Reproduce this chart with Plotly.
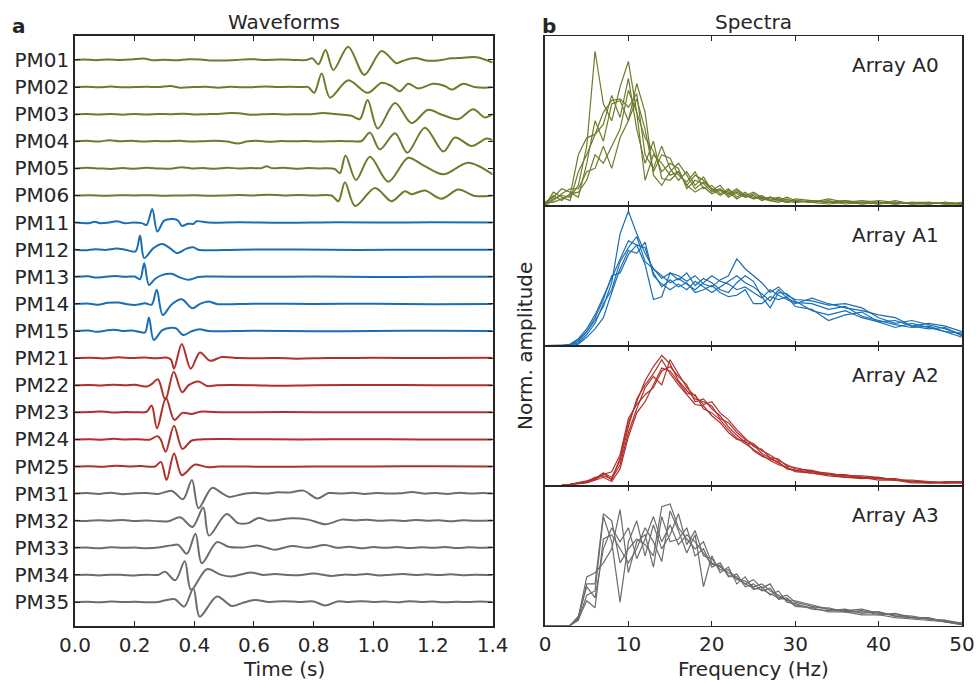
import plotly.graph_objects as go

# ---------------- data ----------------
STATIONS = ["PM01", "PM02", "PM03", "PM04", "PM05", "PM06",
            "PM11", "PM12", "PM13", "PM14", "PM15",
            "PM21", "PM22", "PM23", "PM24", "PM25",
            "PM31", "PM32", "PM33", "PM34", "PM35"]

# waveform key points (time s, normalised amplitude)
PM01 = [(0.00,0.0),(0.03,0.02),(0.07,-0.01),(0.11,0.02),(0.15,0.00),(0.19,0.02),(0.235,0.05),(0.26,-0.01),(0.30,0.01),(0.34,-0.01),(0.38,0.03),(0.42,0.02),(0.46,-0.02),(0.50,-0.02),(0.54,0.00),(0.58,0.03),(0.61,0.02),(0.64,0.00),(0.67,0.01),(0.70,0.02),(0.74,0.00),(0.775,0.00),(0.796,0.06),(0.816,-0.16),(0.840,0.37),(0.866,-0.37),(0.916,0.49),(0.970,-0.55),(1.028,0.33),(1.078,-0.12),(1.10,-0.03),(1.140,0.07),(1.184,-0.03),(1.229,0.0),(1.26,0.06),(1.285,0.07),(1.346,0.10),(1.40,-0.10)]
PM02 = [(0.00,0.0),(0.04,0.01),(0.08,-0.01),(0.12,0.02),(0.16,-0.01),(0.20,0.0),(0.24,0.01),(0.28,0.0),(0.32,0.04),(0.35,-0.02),(0.40,0.0),(0.44,0.01),(0.48,-0.02),(0.52,0.01),(0.56,-0.01),(0.60,0.0),(0.64,0.02),(0.68,0.0),(0.72,0.01),(0.76,0.0),(0.782,0.0),(0.802,-0.21),(0.827,0.50),(0.855,-0.39),(0.916,0.25),(0.981,-0.21),(1.028,0.16),(1.061,0.04),(1.089,-0.15),(1.117,0.12),(1.151,-0.05),(1.201,0.12),(1.240,0.04),(1.263,-0.09),(1.302,0.12),(1.34,0.0),(1.374,-0.02),(1.40,0.0)]
PM03 = [(0.00,0.0),(0.04,0.01),(0.08,-0.01),(0.12,0.01),(0.16,-0.02),(0.20,0.01),(0.24,-0.01),(0.28,0.01),(0.32,0.0),(0.36,0.02),(0.40,-0.01),(0.44,0.0),(0.48,0.01),(0.52,0.04),(0.55,0.03),(0.59,-0.02),(0.63,0.0),(0.67,0.01),(0.71,-0.01),(0.75,0.0),(0.79,0.0),(0.83,0.04),(0.87,0.01),(0.927,-0.06),(0.955,-0.18),(0.981,0.52),(1.015,-0.53),(1.073,0.41),(1.128,-0.33),(1.184,0.16),(1.23,-0.02),(1.285,-0.18),(1.335,0.18),(1.374,-0.12),(1.40,0.0)]
PM04 = [(0.00,0.0),(0.04,0.02),(0.08,-0.01),(0.115,0.04),(0.15,0.0),(0.19,0.02),(0.23,-0.01),(0.27,0.01),(0.31,0.0),(0.35,0.02),(0.39,-0.01),(0.43,0.0),(0.47,0.02),(0.51,-0.01),(0.547,-0.08),(0.575,-0.01),(0.61,0.02),(0.65,-0.02),(0.69,0.01),(0.73,0.0),(0.77,0.01),(0.81,-0.01),(0.85,0.0),(0.89,0.01),(0.93,0.0),(0.961,0.01),(0.989,0.32),(1.022,-0.30),(1.073,0.30),(1.114,-0.42),(1.173,0.50),(1.235,-0.38),(1.274,0.14),(1.330,-0.17),(1.380,0.10),(1.40,0.04)]
PM05 = [(0.00,0.0),(0.04,0.02),(0.08,0.0),(0.12,-0.02),(0.16,0.01),(0.20,-0.01),(0.24,0.02),(0.28,0.0),(0.32,-0.01),(0.357,0.04),(0.39,0.0),(0.43,0.01),(0.47,-0.01),(0.51,0.02),(0.55,0.0),(0.59,0.01),(0.625,0.01),(0.642,0.08),(0.66,0.01),(0.70,0.02),(0.74,-0.01),(0.78,0.01),(0.82,0.0),(0.86,0.0),(0.872,-0.03),(0.888,-0.18),(0.907,0.48),(0.942,-0.43),(0.989,0.43),(1.050,-0.49),(1.117,0.39),(1.162,0.15),(1.235,-0.22),(1.318,0.21),(1.40,-0.22)]
PM06 = [(0.00,0.0),(0.05,0.01),(0.10,-0.01),(0.15,0.01),(0.20,0.0),(0.25,0.01),(0.30,-0.01),(0.35,0.0),(0.40,0.01),(0.45,-0.01),(0.50,0.0),(0.55,0.02),(0.60,0.0),(0.65,0.03),(0.70,0.0),(0.75,0.02),(0.80,0.0),(0.86,0.0),(0.883,-0.21),(0.905,0.49),(0.939,-0.39),(1.006,0.28),(1.061,-0.21),(1.106,0.16),(1.128,0.05),(1.173,0.18),(1.229,-0.12),(1.285,0.22),(1.341,-0.02),(1.40,0.0)]
PM11 = [(0.0,0.0),(0.045,-0.02),(0.067,0.03),(0.084,-0.02),(0.112,0.0),(0.14,0.05),(0.168,-0.02),(0.196,0.0),(0.224,-0.02),(0.240,-0.09),(0.259,0.50),(0.276,-0.33),(0.299,0.07),(0.330,0.13),(0.346,0.07),(0.358,-0.12),(0.380,-0.04),(0.397,-0.05),(0.408,0.05),(0.447,0.0),(0.55,0.01),(0.70,-0.01),(0.88,0.01),(1.0,0.0),(1.2,0.01),(1.40,0.0)]
PM12 = [(0.0,0.0),(0.034,-0.02),(0.067,0.02),(0.10,-0.01),(0.14,0.04),(0.168,0.0),(0.203,-0.06),(0.218,0.52),(0.232,-0.31),(0.263,0.06),(0.293,0.21),(0.318,0.06),(0.341,-0.12),(0.374,0.04),(0.397,0.09),(0.413,0.0),(0.55,0.0),(0.75,0.01),(0.95,-0.01),(1.15,0.0),(1.40,0.0)]
PM13 = [(0.0,0.0),(0.045,0.02),(0.07,-0.03),(0.10,0.0),(0.135,0.03),(0.17,0.0),(0.20,0.01),(0.218,-0.09),(0.232,0.50),(0.248,-0.30),(0.268,-0.08),(0.293,0.07),(0.324,0.11),(0.346,0.0),(0.380,-0.11),(0.413,-0.01),(0.447,0.01),(0.60,0.0),(0.80,0.01),(1.0,-0.01),(1.2,0.0),(1.40,0.0)]
PM14 = [(0.0,0.0),(0.05,0.01),(0.078,-0.03),(0.11,0.04),(0.145,0.05),(0.17,0.0),(0.20,-0.04),(0.235,0.02),(0.257,-0.03),(0.274,0.52),(0.294,-0.41),(0.324,-0.02),(0.358,0.17),(0.393,-0.16),(0.419,0.0),(0.447,0.09),(0.475,0.0),(0.60,0.01),(0.80,0.0),(1.0,0.01),(1.2,-0.01),(1.40,0.0)]
PM15 = [(0.0,0.0),(0.045,0.02),(0.07,-0.03),(0.10,0.01),(0.13,0.05),(0.16,0.0),(0.19,0.02),(0.215,-0.03),(0.235,-0.05),(0.248,0.50),(0.264,-0.33),(0.293,0.03),(0.324,0.12),(0.339,0.10),(0.363,-0.15),(0.391,-0.01),(0.419,0.06),(0.447,0.0),(0.60,0.01),(0.80,-0.01),(1.0,0.0),(1.2,0.01),(1.40,0.0)]
PM21 = [(0.0,0.0),(0.05,0.01),(0.10,-0.01),(0.145,0.03),(0.19,0.0),(0.235,0.02),(0.27,-0.01),(0.307,0.02),(0.322,-0.06),(0.332,-0.39),(0.358,0.52),(0.388,-0.39),(0.419,0.21),(0.453,-0.10),(0.492,0.04),(0.55,0.0),(0.68,0.0),(0.74,-0.02),(0.85,0.0),(1.0,0.01),(1.2,0.0),(1.40,0.01)]
PM22 = [(0.0,0.0),(0.05,0.01),(0.09,-0.01),(0.13,0.02),(0.17,0.0),(0.20,0.02),(0.219,-0.02),(0.241,-0.05),(0.258,0.05),(0.278,0.22),(0.303,-0.54),(0.331,0.50),(0.359,-0.26),(0.381,0.0),(0.414,0.14),(0.443,-0.03),(0.476,0.0),(0.60,0.0),(0.68,-0.02),(0.80,0.0),(1.0,0.01),(1.2,0.0),(1.40,0.0)]
PM23 = [(0.0,0.0),(0.05,0.01),(0.09,0.03),(0.13,-0.01),(0.17,0.01),(0.21,0.0),(0.24,0.02),(0.257,0.25),(0.275,-0.59),(0.305,0.54),(0.333,-0.28),(0.36,-0.02),(0.39,-0.06),(0.42,0.02),(0.50,0.0),(0.70,0.01),(0.90,0.0),(1.1,0.0),(1.40,0.0)]
PM24 = [(0.0,0.0),(0.05,0.01),(0.09,-0.01),(0.13,0.02),(0.17,0.0),(0.21,0.01),(0.25,-0.01),(0.277,0.12),(0.288,-0.02),(0.304,-0.46),(0.332,0.50),(0.360,-0.35),(0.39,-0.05),(0.42,0.0),(0.55,0.01),(0.75,0.0),(0.95,0.01),(1.15,0.0),(1.40,0.0)]
PM25 = [(0.0,0.0),(0.05,0.01),(0.09,-0.01),(0.135,0.03),(0.18,0.0),(0.22,0.02),(0.268,0.0),(0.288,0.17),(0.307,-0.50),(0.332,0.48),(0.358,-0.32),(0.391,-0.01),(0.402,0.07),(0.447,-0.03),(0.48,0.0),(0.65,-0.01),(0.80,0.0),(1.0,0.0),(1.2,0.01),(1.40,0.0)]
PM31 = [(0.0,0.0),(0.04,0.02),(0.08,-0.01),(0.12,0.03),(0.16,-0.02),(0.20,0.01),(0.24,0.02),(0.28,-0.01),(0.325,0.10),(0.362,-0.21),(0.392,0.50),(0.414,-0.54),(0.459,0.21),(0.492,0.02),(0.516,-0.12),(0.56,-0.02),(0.60,0.03),(0.64,0.0),(0.68,0.05),(0.72,0.04),(0.766,0.11),(0.813,-0.18),(0.85,0.02),(0.89,0.0),(0.93,0.03),(0.97,-0.01),(1.01,0.02),(1.05,0.0),(1.09,0.01),(1.13,0.06),(1.17,0.0),(1.21,0.02),(1.25,-0.01),(1.29,0.03),(1.33,0.0),(1.37,0.02),(1.40,0.0)]
PM32 = [(0.0,0.0),(0.04,-0.01),(0.08,0.02),(0.12,0.0),(0.16,0.03),(0.20,-0.01),(0.24,0.01),(0.28,-0.02),(0.313,-0.02),(0.353,0.13),(0.394,-0.23),(0.430,0.49),(0.449,-0.55),(0.508,0.25),(0.547,-0.09),(0.581,-0.09),(0.615,0.10),(0.65,0.0),(0.68,0.03),(0.726,0.09),(0.782,0.04),(0.840,-0.13),(0.894,0.04),(0.94,0.01),(0.98,0.04),(1.02,0.0),(1.06,0.02),(1.10,-0.01),(1.14,0.03),(1.18,0.0),(1.22,0.02),(1.26,-0.02),(1.30,0.02),(1.34,0.0),(1.40,0.01)]
PM33 = [(0.0,0.0),(0.04,0.01),(0.08,-0.02),(0.12,0.02),(0.16,0.0),(0.20,0.01),(0.24,-0.02),(0.28,0.01),(0.324,0.09),(0.346,0.11),(0.375,-0.22),(0.404,0.52),(0.425,-0.57),(0.476,0.21),(0.514,0.04),(0.56,0.01),(0.615,0.08),(0.670,-0.07),(0.726,0.07),(0.78,0.0),(0.838,0.10),(0.88,0.0),(0.92,0.04),(0.96,-0.02),(1.0,0.03),(1.04,0.0),(1.08,0.03),(1.12,-0.01),(1.16,0.02),(1.20,0.0),(1.24,0.03),(1.28,-0.01),(1.32,0.02),(1.36,0.0),(1.40,0.02)]
PM34 = [(0.0,0.0),(0.04,0.01),(0.08,-0.02),(0.12,0.01),(0.16,0.0),(0.20,-0.02),(0.24,0.01),(0.279,0.0),(0.302,0.12),(0.336,-0.20),(0.368,0.50),(0.389,-0.55),(0.442,0.21),(0.49,0.0),(0.525,-0.06),(0.589,0.09),(0.63,0.0),(0.67,0.03),(0.71,0.0),(0.75,-0.01),(0.80,0.05),(0.86,-0.04),(0.90,0.01),(0.94,0.0),(0.98,0.03),(1.02,-0.02),(1.06,0.01),(1.10,0.03),(1.14,0.0),(1.18,0.02),(1.22,0.0),(1.26,0.02),(1.30,-0.01),(1.34,0.01),(1.40,0.0)]
PM35 = [(0.0,0.0),(0.04,0.01),(0.08,-0.01),(0.12,0.02),(0.16,0.0),(0.20,0.01),(0.24,-0.01),(0.279,0.0),(0.333,0.11),(0.366,-0.17),(0.397,0.50),(0.418,-0.54),(0.476,0.20),(0.526,-0.15),(0.56,-0.04),(0.604,0.07),(0.65,0.0),(0.70,0.03),(0.75,0.0),(0.80,0.02),(0.839,-0.13),(0.88,0.02),(0.92,0.0),(0.96,0.03),(1.0,0.0),(1.04,0.02),(1.08,-0.01),(1.12,0.03),(1.16,0.0),(1.20,0.02),(1.24,-0.01),(1.28,0.01),(1.32,0.0),(1.36,0.02),(1.40,0.0)]

WAVEFORMS = [PM01, PM02, PM03, PM04, PM05, PM06, PM11, PM12, PM13, PM14, PM15,
             PM21, PM22, PM23, PM24, PM25, PM31, PM32, PM33, PM34, PM35]

TIME_TICKS = [0.0, 0.2, 0.4, 0.6, 0.8, 1.0, 1.2, 1.4]
FREQ_TICKS = [0, 10, 20, 30, 40, 50]

FREQ = list(range(0, 31)) + [32, 34, 36, 38, 40, 42, 44, 46, 48, 50]

A0_SPECTRA = [
    [0.01,0.04,0.06,0.05,0.12,0.35,0.91,0.60,0.50,0.70,0.85,0.55,0.15,0.30,0.25,0.18,0.20,0.12,0.18,0.15,0.10,0.09,0.07,0.10,0.06,0.08,0.05,0.04,0.03,0.05,0.03,0.02,0.04,0.02,0.03,0.02,0.01,0.02,0.01,0.02,0.01],
    [0.00,0.08,0.05,0.03,0.20,0.30,0.42,0.55,0.62,0.63,0.58,0.66,0.30,0.22,0.35,0.22,0.15,0.20,0.12,0.17,0.09,0.12,0.06,0.09,0.05,0.07,0.04,0.05,0.03,0.02,0.04,0.03,0.02,0.03,0.02,0.01,0.02,0.01,0.02,0.01,0.02],
    [0.02,0.05,0.10,0.08,0.05,0.25,0.50,0.38,0.60,0.62,0.50,0.63,0.45,0.20,0.30,0.28,0.18,0.14,0.20,0.10,0.12,0.07,0.10,0.05,0.08,0.04,0.06,0.03,0.04,0.02,0.03,0.02,0.03,0.01,0.02,0.03,0.02,0.01,0.02,0.01,0.01],
    [0.01,0.06,0.03,0.07,0.08,0.15,0.30,0.25,0.35,0.45,0.68,0.55,0.40,0.32,0.20,0.25,0.22,0.10,0.15,0.13,0.08,0.10,0.05,0.08,0.06,0.04,0.05,0.03,0.02,0.04,0.02,0.03,0.02,0.03,0.01,0.02,0.01,0.02,0.01,0.02,0.01],
    [0.00,0.03,0.07,0.10,0.10,0.20,0.22,0.35,0.22,0.40,0.50,0.72,0.55,0.18,0.12,0.20,0.25,0.18,0.10,0.14,0.10,0.06,0.09,0.07,0.05,0.06,0.03,0.05,0.04,0.02,0.03,0.02,0.01,0.02,0.02,0.01,0.03,0.01,0.01,0.02,0.01],
    [0.02,0.02,0.04,0.06,0.30,0.40,0.42,0.48,0.65,0.52,0.75,0.45,0.25,0.38,0.16,0.15,0.20,0.12,0.08,0.11,0.07,0.09,0.08,0.04,0.07,0.05,0.04,0.03,0.05,0.03,0.02,0.03,0.02,0.02,0.01,0.02,0.01,0.02,0.02,0.01,0.01],
]
A1_SPECTRA = [
    [0.0,0.0,0.0,0.005,0.03,0.10,0.18,0.28,0.45,0.80,0.96,0.80,0.66,0.55,0.48,0.52,0.50,0.46,0.50,0.44,0.42,0.47,0.50,0.62,0.55,0.50,0.45,0.38,0.42,0.36,0.33,0.32,0.29,0.30,0.27,0.20,0.16,0.18,0.15,0.12,0.08],
    [0.0,0.0,0.0,0.01,0.05,0.12,0.22,0.35,0.48,0.62,0.75,0.72,0.58,0.33,0.35,0.52,0.47,0.52,0.43,0.48,0.45,0.40,0.38,0.45,0.50,0.46,0.35,0.27,0.38,0.37,0.32,0.25,0.22,0.25,0.20,0.17,0.13,0.16,0.13,0.10,0.06],
    [0.0,0.0,0.0,0.005,0.02,0.08,0.16,0.30,0.40,0.60,0.70,0.78,0.60,0.55,0.50,0.45,0.48,0.44,0.40,0.45,0.50,0.46,0.44,0.40,0.42,0.38,0.34,0.40,0.36,0.33,0.30,0.34,0.30,0.27,0.25,0.22,0.20,0.14,0.16,0.14,0.10],
    [0.0,0.0,0.0,0.01,0.04,0.10,0.20,0.33,0.50,0.52,0.65,0.72,0.70,0.52,0.42,0.47,0.42,0.45,0.38,0.40,0.43,0.38,0.35,0.36,0.40,0.30,0.30,0.35,0.33,0.35,0.28,0.26,0.18,0.22,0.24,0.17,0.18,0.14,0.12,0.13,0.07],
    [0.0,0.0,0.0,0.0,0.01,0.06,0.12,0.20,0.38,0.55,0.68,0.66,0.74,0.50,0.44,0.40,0.44,0.40,0.46,0.42,0.38,0.42,0.46,0.50,0.45,0.42,0.37,0.32,0.40,0.34,0.31,0.30,0.26,0.28,0.21,0.18,0.15,0.13,0.14,0.10,0.09],
]
A2_SPECTRA = [
    [0.0,0.0,0.003,0.01,0.02,0.035,0.05,0.09,0.04,0.20,0.45,0.60,0.75,0.85,0.93,0.87,0.75,0.68,0.62,0.60,0.57,0.48,0.45,0.38,0.33,0.30,0.25,0.22,0.18,0.15,0.12,0.11,0.08,0.08,0.06,0.05,0.04,0.03,0.02,0.02,0.03],
    [0.0,0.0,0.003,0.01,0.02,0.03,0.06,0.07,0.05,0.15,0.38,0.55,0.70,0.78,0.72,0.90,0.80,0.70,0.64,0.58,0.60,0.52,0.47,0.40,0.34,0.28,0.26,0.20,0.19,0.14,0.13,0.10,0.09,0.07,0.07,0.06,0.04,0.04,0.03,0.02,0.03],
    [0.0,0.0,0.002,0.008,0.015,0.025,0.045,0.08,0.10,0.22,0.48,0.58,0.65,0.70,0.82,0.85,0.78,0.72,0.60,0.62,0.55,0.50,0.42,0.36,0.31,0.29,0.23,0.20,0.16,0.13,0.11,0.10,0.08,0.07,0.06,0.05,0.05,0.03,0.02,0.02,0.02],
    [0.0,0.0,0.002,0.008,0.015,0.02,0.04,0.06,0.03,0.12,0.35,0.52,0.60,0.72,0.84,0.82,0.74,0.66,0.65,0.55,0.52,0.47,0.40,0.34,0.30,0.26,0.22,0.18,0.15,0.13,0.10,0.09,0.07,0.06,0.05,0.06,0.04,0.03,0.03,0.02,0.02],
    [0.0,0.0,0.003,0.01,0.02,0.03,0.05,0.09,0.06,0.18,0.42,0.62,0.72,0.80,0.90,0.80,0.72,0.65,0.58,0.57,0.50,0.45,0.38,0.33,0.32,0.25,0.21,0.19,0.17,0.12,0.11,0.09,0.08,0.06,0.06,0.04,0.04,0.02,0.02,0.03,0.03],
]
A3_SPECTRA = [
    [0.0,0.002,0.003,0.005,0.05,0.30,0.30,0.80,0.75,0.45,0.55,0.62,0.58,0.50,0.85,0.87,0.70,0.62,0.55,0.60,0.45,0.42,0.38,0.35,0.30,0.33,0.27,0.30,0.20,0.22,0.17,0.14,0.12,0.11,0.12,0.09,0.08,0.07,0.05,0.04,0.01],
    [0.0,0.002,0.003,0.005,0.04,0.22,0.25,0.78,0.60,0.17,0.60,0.75,0.50,0.72,0.55,0.65,0.80,0.58,0.68,0.50,0.48,0.40,0.40,0.33,0.32,0.28,0.30,0.25,0.22,0.18,0.18,0.15,0.12,0.10,0.10,0.10,0.07,0.06,0.06,0.03,0.01],
    [0.0,0.002,0.003,0.005,0.06,0.35,0.38,0.45,0.55,0.83,0.38,0.60,0.65,0.42,0.78,0.60,0.62,0.70,0.50,0.55,0.42,0.45,0.35,0.37,0.28,0.30,0.25,0.27,0.19,0.20,0.15,0.13,0.13,0.10,0.11,0.08,0.09,0.06,0.05,0.04,0.02],
    [0.0,0.002,0.003,0.005,0.05,0.18,0.13,0.62,0.65,0.55,0.45,0.55,0.70,0.60,0.46,0.82,0.68,0.52,0.65,0.28,0.50,0.38,0.42,0.30,0.35,0.26,0.28,0.22,0.25,0.17,0.16,0.12,0.11,0.12,0.09,0.10,0.07,0.06,0.05,0.03,0.01],
    [0.0,0.002,0.003,0.005,0.07,0.28,0.20,0.55,0.70,0.60,0.70,0.48,0.62,0.78,0.60,0.72,0.58,0.65,0.60,0.52,0.44,0.43,0.36,0.34,0.30,0.27,0.26,0.23,0.20,0.19,0.14,0.13,0.10,0.10,0.08,0.08,0.06,0.05,0.04,0.03,0.02],
]
SPECTRA = [A0_SPECTRA, A1_SPECTRA, A2_SPECTRA, A3_SPECTRA]
ARRAY_LABELS = ["Array A0", "Array A1", "Array A2", "Array A3"]

# ---------------- style ----------------
GREEN, BLUE, RED, GREY = "#6f7b2b", "#1a6fb4", "#b0302b", "#6c6c6c"
GROUP_COLORS = [GREEN, BLUE, RED, GREY]
TRACE_COLORS = [GREEN] * 6 + [BLUE] * 5 + [RED] * 5 + [GREY] * 5
INK = "#262626"
FONT = "DejaVu Sans"
FS = 20

W, H = 976, 684
ML, MR, MT, MB = 75, 14, 36, 58
PW, PH = W - ML - MR, H - MT - MB


def px_x(p):
    return (p - ML) / PW


def px_y(p):
    return (H - MB - p) / PH


fig = go.Figure()

n = len(STATIONS)
for i, (pts, col) in enumerate(zip(WAVEFORMS, TRACE_COLORS)):
    fig.add_trace(go.Scatter(
        x=[p[0] for p in pts], y=[-i + p[1] for p in pts], mode="lines",
        line=dict(color=col, width=2, shape="spline", smoothing=0.9),
        xaxis="x", yaxis="y", showlegend=False, hoverinfo="skip"))

for k, (lines, col) in enumerate(zip(SPECTRA, GROUP_COLORS)):
    ax = str(k + 2)
    for vals in lines:
        fig.add_trace(go.Scatter(
            x=FREQ, y=vals, mode="lines", line=dict(color=col, width=1.2),
            xaxis="x" + ax, yaxis="y" + ax, showlegend=False, hoverinfo="skip"))

axis_common = dict(showline=True, linecolor=INK, linewidth=1.5, mirror="ticks",
                   ticks="inside", ticklen=5, tickwidth=1.2, tickcolor=INK,
                   showgrid=False, zeroline=False, automargin=False,
                   tickfont=dict(family=FONT, size=FS, color=INK))

split = px_x(545)
layout = dict(
    width=W, height=H, autosize=False, margin=dict(l=ML, r=MR, t=MT, b=MB, pad=0),
    paper_bgcolor="white", plot_bgcolor="white", showlegend=False,
    font=dict(family=FONT, size=FS, color=INK),
    xaxis=dict(domain=[0, px_x(492.6)], range=[0, 1.4], tickvals=TIME_TICKS,
               ticktext=["%.1f" % t for t in TIME_TICKS], anchor="y", **axis_common),
    yaxis=dict(domain=[0, 1], range=[-(n - 1) - 0.885, 0.885],
               tickvals=[-i for i in range(n)], ticktext=STATIONS, anchor="x",
               **axis_common),
)

bounds = [36, 205.7, 345.7, 485.7, 626]
for k in range(4):
    ax = str(k + 2)
    d = [px_y(bounds[k + 1]), px_y(bounds[k])]
    xa = dict(axis_common)
    xa["linewidth"] = 1.1
    layout["xaxis" + ax] = dict(domain=[split, 1], range=[0, 50], tickvals=FREQ_TICKS,
                                showticklabels=(k == 3), anchor="y" + ax, **xa)
    layout["yaxis" + ax] = dict(domain=d, range=[0, 1], showticklabels=False,
                                showline=True, linecolor=INK, linewidth=1.5, mirror=True,
                                ticks="", showgrid=False, zeroline=False, anchor="x" + ax)
fig.update_layout(**layout)

ann = []
def add_text(text, xp, yp, **kw):
    d = dict(text=text, x=px_x(xp), y=px_y(yp), xref="paper", yref="paper",
             showarrow=False, font=dict(family=FONT, size=FS, color=INK),
             xanchor="center", yanchor="middle")
    d.update(kw)
    ann.append(d)

add_text("Waveforms", 283.5, 22.5)
add_text("Spectra", 753.5, 22.5)
add_text("<b>a</b>", 19, 26)
add_text("<b>b</b>", 549, 26)
add_text("Time (s)", 283.5, 669)
add_text("Frequency (Hz)", 753.5, 669)
add_text("Norm. amplitude", 525, 346, textangle=-90)
for k, lab in enumerate(ARRAY_LABELS):
    add_text(lab, 941, bounds[k] + 29, xanchor="right")
fig.update_layout(annotations=ann)

POST = ("document.documentElement.style.margin='0';"
        "document.body.style.margin='0';document.body.style.padding='0';"
        "document.body.style.overflow='hidden';"
        "var gd=document.getElementById('{plot_id}');"
        "Plotly.relayout(gd,{width:976,height:684});")

fig.write_html("out.html", config={"responsive": False, "displayModeBar": False},
               post_script=POST)
